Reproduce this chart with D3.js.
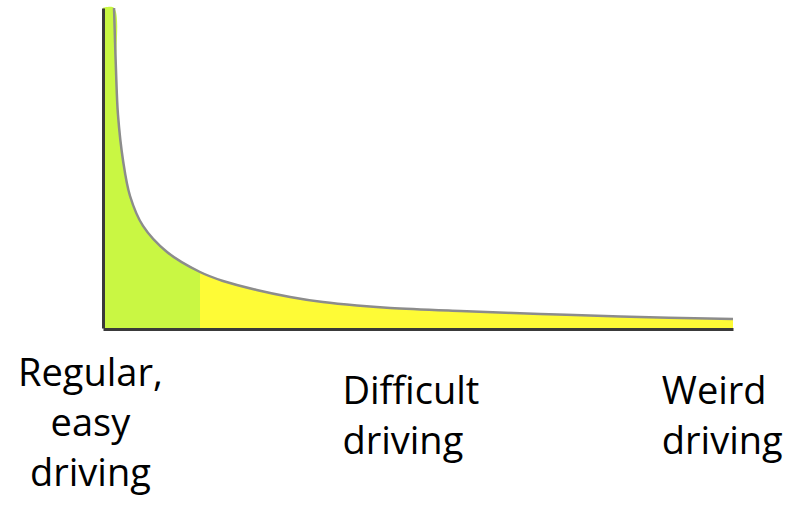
<!DOCTYPE html>
<html>
<head>
<meta charset="utf-8">
<script src="https://cdn.jsdelivr.net/npm/d3@7"></script>
<style>
  body { margin: 0; background: #fff; }
  text { font-family: "Open Sans", "DejaVu Sans", sans-serif; fill: #000; }
</style>
</head>
<body>
<div id="chart"></div>
<script>
// curve: share of cases (x, 0-100) vs frequency (y, 0-100)
const curveX = [1.75, 2.06, 2.38, 3.17, 4.29, 6.35, 10.16, 15.4, 19.05, 24.4, 29.7, 34.9, 40.3, 45.6, 56.7, 69.4, 82.1, 100];
const curveY = [100, 80.6, 66.6, 52.5, 41.25, 31.9, 23.75, 17.5, 14.7, 11.9, 9.7, 8.1, 7.0, 6.25, 5.3, 4.4, 3.6, 2.8];
const easyLimit = 15.4;   // green part ends here
const labelLines = [
  ["Regular,", "easy", "driving"],
  ["Difficult", "driving"],
  ["Weird", "driving"]
];

function drawChart() {
  const W = 795, H = 515;
  const margin = {top: 8, left: 103, right: 62, bottom: 187};
  const width = W - margin.left - margin.right,
        height = H - margin.top - margin.bottom;

  const svg = d3.select("#chart").append("svg")
      .attr("width", W)
      .attr("height", H);

  const g = svg.append("g")
      .attr("transform", `translate(${margin.left}, ${margin.top})`);

  const x = d3.scaleLinear().domain([0, 100]).range([0, width]);
  const y = d3.scaleLinear().domain([0, 100]).range([height, 0]);

  const pts = curveX.map((d, i) => ({x: d, y: curveY[i]}));
  // the fill runs right up to the y axis at the top
  const fillPts = [{x: 0, y: curveY[0]}].concat(pts);

  const smooth = d3.curveCatmullRom.alpha(0.5);

  const area = d3.area()
    .x(d => x(d.x))
    .y0(y(0))
    .y1(d => y(d.y))
    .curve(smooth);

  const line = d3.line()
    .x(d => x(d.x))
    .y(d => y(d.y))
    .curve(smooth);

  // clip the one area into the green head and the yellow tail
  const defs = svg.append("defs");
  defs.append("clipPath").attr("id", "clipHead")
    .append("rect")
      .attr("x", -5).attr("y", -10)
      .attr("width", x(easyLimit) + 5).attr("height", height + 20);
  defs.append("clipPath").attr("id", "clipTail")
    .append("rect")
      .attr("x", x(easyLimit)).attr("y", -10)
      .attr("width", width - x(easyLimit) + 10).attr("height", height + 20);
  defs.append("filter").attr("id", "soft")
    .append("feGaussianBlur").attr("stdDeviation", 0.6);

  g.append("path")
    .datum(fillPts)
    .attr("d", area)
    .attr("fill", "#c9f743")
    .attr("clip-path", "url(#clipHead)");

  g.append("path")
    .datum(fillPts)
    .attr("d", area)
    .attr("fill", "#fefb36")
    .attr("clip-path", "url(#clipTail)");

  g.append("path")
    .datum(pts)
    .attr("d", line)
    .attr("fill", "none")
    .attr("stroke", "#8c8c8c")
    .attr("stroke-width", 2.5)
    .attr("filter", "url(#soft)");

  // axes without ticks, just the two dark lines
  const xAxis = g.append("g")
    .attr("transform", `translate(0, ${height + 1})`)
    .call(d3.axisBottom(x).ticks(0).tickSizeOuter(0));
  const yAxis = g.append("g")
    .call(d3.axisLeft(y).ticks(0).tickSizeOuter(0));
  [xAxis, yAxis].forEach(a => a.select(".domain")
    .attr("stroke", "#3a3a3a")
    .attr("stroke-width", 3));

  // labels under the axis
  const lineGap = 50;
  const places = [
    {x: -2, anchor: "middle", base: 386},
    {x: 38, anchor: "start", base: 404},
    {x: 88.7, anchor: "start", base: 404}
  ];
  labelLines.forEach((lines, i) => {
    const t = svg.append("text")
      .attr("text-anchor", places[i].anchor)
      .style("font-size", "38px");
    lines.forEach((s, j) => {
      t.append("tspan")
        .attr("x", margin.left + x(places[i].x))
        .attr("y", places[i].base + j * lineGap)
        .text(s);
    });
  });
}

drawChart();
</script>
</body>
</html>
